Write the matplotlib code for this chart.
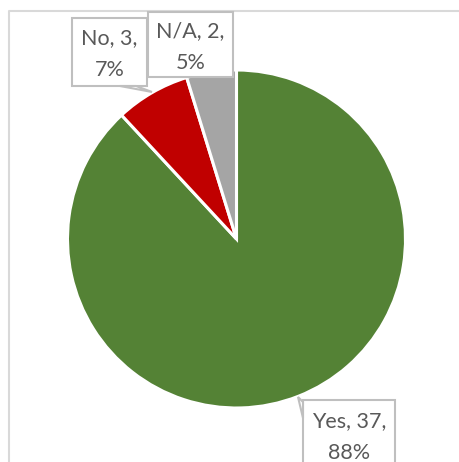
import matplotlib
matplotlib.use("Agg")
import matplotlib.pyplot as plt
from matplotlib.patches import Rectangle, Polygon

categories = ["Yes", "No", "N/A"]
values = [37, 3, 2]
colors = ["#548235", "#C00000", "#A5A5A5"]

W, H = 459, 462
fig = plt.figure(figsize=(W / 100, H / 100), dpi=100)
ax = fig.add_axes([0, 0, 1, 1])

def Y(y):
    return H - y

ax.pie(values, colors=colors, startangle=90, counterclock=False,
       center=(236.5, Y(239)), radius=169, frame=True,
       wedgeprops=dict(edgecolor="white", linewidth=2.2))
ax.set_xlim(0, W)
ax.set_ylim(0, H)
ax.set_aspect("equal")
ax.axis("off")

# chart border (only top and left visible)
ax.plot([9, 9, W], [Y(H), Y(11), Y(11)], color="#D9D9D9", lw=1.5, solid_capstyle="butt")

total = sum(values)
labels = [f"{c}, {v},\n{round(100 * v / total)}%" for c, v in zip(categories, values)]

# label boxes: (x0, y0, x1, y1) in pixel coords (top-down), pointer polygon, text centre y
boxes = {
    "Yes": ((303, 400, 395, 475), [(303, 402), (298, 397), (303, 418)], 437),
    "No": ((72, 18, 147, 86), [(120, 86), (152, 92), (136, 86)], 54),
    "N/A": ((148, 12, 233, 77), None, 47),
}
edge = "#BFBFBF"
for cat, lab in zip(categories, labels):
    (x0, y0, x1, y1), ptr, cy = boxes[cat]
    ax.add_patch(Rectangle((x0, Y(y1)), x1 - x0, y1 - y0, facecolor="white",
                           edgecolor=edge, lw=1.5, zorder=5))
    if ptr is not None:
        ax.add_patch(Polygon([(px, Y(py)) for px, py in ptr], closed=True,
                             facecolor="white", edgecolor=edge, lw=1.5, zorder=5))
    cx = (x0 + x1) / 2
    ax.text(cx, Y(cy), lab, ha="center", va="center", fontsize=15.5,
            family="Lato", color="#595959", linespacing=1.7, zorder=6)

fig.savefig("out.png", dpi=100)
